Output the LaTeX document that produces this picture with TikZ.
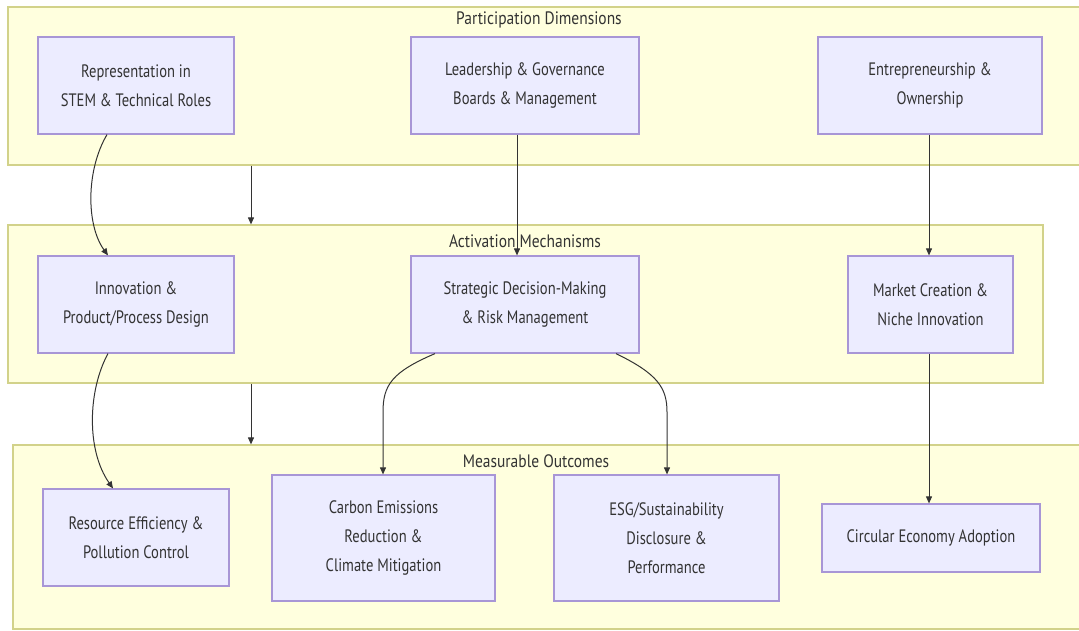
\documentclass[tikz,border=0pt]{standalone}
\usepackage{fontspec}
\setmainfont{PT Sans}
\newfontfamily\nodefont{PT Sans}[FakeStretch=0.81]
\newfontfamily\titlefont{PT Sans}[FakeStretch=0.86]
\usetikzlibrary{arrows.meta}
\definecolor{sgfill}{HTML}{FFFFDE}
\definecolor{sgline}{HTML}{D2D28A}
\definecolor{nfill}{HTML}{ECECFF}
\definecolor{nline}{HTML}{A896D6}
\definecolor{ink}{HTML}{333333}
\tikzset{
  sg/.style={draw=sgline, fill=sgfill, line width=1.2pt, rectangle, inner sep=0pt},
  box/.style={draw=nline, fill=nfill, line width=1.2pt, rectangle, inner sep=2pt,
    align=center, text=ink, font=\nodefont\fontsize{18}{29}\selectfont},
  sgtitle/.style={text=ink, font=\titlefont\fontsize{18}{20}\selectfont, inner sep=0pt},
  link/.style={draw=ink, line width=1pt, -{Triangle[length=7pt,width=6pt]}},
}
\begin{document}
\begin{tikzpicture}[x=1pt,y=-1pt]
\useasboundingbox (0,0) rectangle (1079,631);
\fill[white] (0,0) rectangle (1079,631);
% subgraphs
\node[sg, minimum width=1077pt, minimum height=158pt] (sg1) at (546.5,86) {};
\node[sg, minimum width=1035pt, minimum height=158pt] (sg2) at (525.5,304) {};
\node[sg, minimum width=1072pt, minimum height=184pt] (sg3) at (549,537) {};
\node[sgtitle] (t1) at (539,20) {Participation Dimensions};
\node[sgtitle] (t2) at (525,241) {Activation Mechanisms};
\node[sgtitle] (t3) at (536,461) {Measurable Outcomes};
% nodes
\node[box, minimum width=196pt, minimum height=97pt] (rep) at (136,85.5) {Representation in\\STEM \& Technical Roles};
\node[box, minimum width=228pt, minimum height=97pt] (lead) at (525,85.5) {Leadership \& Governance\\Boards \& Management};
\node[box, minimum width=224pt, minimum height=97pt] (ent) at (930,85.5) {Entrepreneurship \&\\Ownership};
\node[box, minimum width=196pt, minimum height=97pt] (inn) at (136,304.5) {Innovation \&\\Product/Process Design};
\node[box, minimum width=228pt, minimum height=97pt] (strat) at (525,304.5) {Strategic Decision-Making\\\& Risk Management};
\node[box, minimum width=165pt, minimum height=97pt] (mkt) at (930.5,304.5) {Market Creation \&\\Niche Innovation};
\node[box, minimum width=186pt, minimum height=97pt] (res) at (136,537.5) {Resource Efficiency \&\\Pollution Control};
\node[box, minimum width=223pt, minimum height=126pt] (carb) at (383.5,538) {Carbon Emissions\\Reduction \&\\Climate Mitigation};
\node[box, minimum width=225pt, minimum height=126pt] (esg) at (666.5,538) {ESG/Sustainability\\Disclosure \&\\Performance};
\node[box, minimum width=218pt, minimum height=68pt] (circ) at (931,538) {Circular Economy Adoption};
% helper x positions
\coordinate (xa) at (251,0);
\coordinate (xl) at (517,0);
\coordinate (xe) at (929,0);
\coordinate (xr1) at (107,0);
\coordinate (xr2) at (108,0);
\coordinate (xi1) at (108,0);
\coordinate (xi2) at (113,0);
\coordinate (xs1) at (435,0);
\coordinate (xs2) at (616,0);
\coordinate (xc) at (383,0);
\coordinate (xg) at (667,0);
% connectors
\draw[link] (sg1.south -| xa) -- (sg2.north -| xa);
\draw[link] (sg2.south -| xa) -- (sg3.north -| xa);
\draw[link] (lead.south -| xl) -- (strat.north -| xl);
\draw[link] (ent.south -| xe) -- (mkt.north -| xe);
\draw[link] (mkt.south -| xe) -- (circ.north -| xe);
\draw[link] (rep.south -| xr1) .. controls (86,170) and (86,225) .. (inn.north -| xr2);
\draw[link] (inn.south -| xi1) .. controls (88,390) and (86,450) .. (res.north -| xi2);
\draw[link] (strat.south -| xs1) .. controls (392,372) and (383,385) .. (383,412) -- (carb.north -| xc);
\draw[link] (strat.south -| xs2) .. controls (658,374) and (667,388) .. (667,412) -- (esg.north -| xg);
\end{tikzpicture}
\end{document}
